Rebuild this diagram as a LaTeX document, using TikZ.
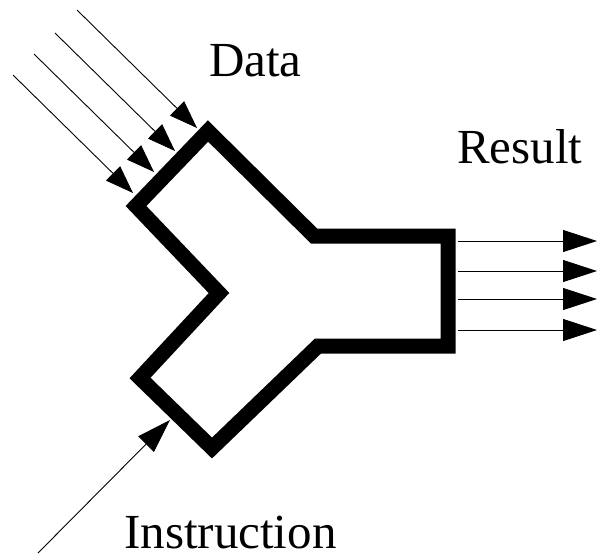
\documentclass[tikz,border=0pt]{standalone}
\usepackage{fontspec}
\setmainfont{Liberation Serif}
\usetikzlibrary{arrows.meta}

\begin{document}
\begin{tikzpicture}[x=1pt, y=-1pt,
    body/.style={line width=15pt, line join=miter},
    feed/.style={line width=0.9pt, -{Triangle[length=28pt, width=20pt]}},
    feedbig/.style={line width=0.9pt, -{Triangle[length=34pt, width=22pt]}},
    lbl/.style={anchor=base west, inner sep=0pt, font=\fontsize{49}{58}\selectfont}]
    \useasboundingbox (0,0) rectangle (599,555);

    % Bloque en Y
    \coordinate (top) at (208,131);
    \coordinate (trj) at (314,236);
    \coordinate (rtc) at (448,236);
    \coordinate (rbc) at (448,346);
    \coordinate (brj) at (318,346);
    \coordinate (bot) at (212,448);
    \coordinate (lbc) at (140,378);
    \coordinate (mid) at (219,293);
    \coordinate (ltc) at (136,206);
    \draw[body] (top) -- (trj) -- (rtc) -- (rbc) -- (brj) -- (bot) -- (lbc) -- (mid) -- (ltc) -- cycle;

    % Entradas de datos
    \foreach \i/\x/\y in {1/197/128, 2/175/151, 3/154/172, 4/133/193} {
        \coordinate (dtip\i) at (\x,\y);
        \coordinate (dtail\i) at (\x-120,\y-118);
        \draw[feed] (dtail\i) -- (dtip\i);
    }
    \node[lbl] (data) at (209,76) {Data};

    % Salidas
    \foreach \i/\y in {1/241, 2/271, 3/299, 4/330} {
        \coordinate (rtail\i) at (458,\y);
        \coordinate (rtip\i) at (597,\y);
        \draw[feedbig] (rtail\i) -- (rtip\i);
    }
    \node[lbl] (result) at (457,163) {Result};

    % Instruccion
    \coordinate (itail) at (38,553);
    \coordinate (itip) at (170,420);
    \draw[feedbig] (itail) -- (itip);
    \node[lbl] (instr) at (124,548) {Instruction};
\end{tikzpicture}
\end{document}
